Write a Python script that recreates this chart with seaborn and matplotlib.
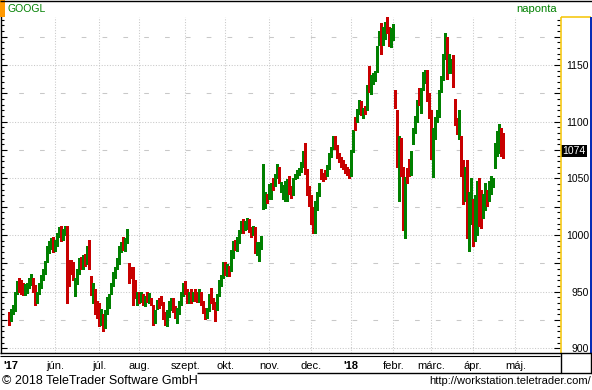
import numpy as np
import pandas as pd
import matplotlib
matplotlib.use("Agg")
import matplotlib.pyplot as plt
import matplotlib.transforms as mtransforms
from matplotlib.ticker import MultipleLocator
from matplotlib.patches import Rectangle
import seaborn as sns

# ---------------- data ----------------
ticker = "GOOGL"
period_label = "naponta"
copyright_text = "© 2018 TeleTrader Software GmbH"
url_text = "http://workstation.teletrader.com/"
month_labels = ["'17", "jún.", "júl.", "aug.", "szept.", "okt.", "nov.",
                "dec.", "'18", "febr.", "márc.", "ápr.", "máj."]
price_labels = [900, 950, 1000, 1050, 1100, 1150]
market_holidays = ["2017-05-29", "2017-07-04", "2017-09-04", "2017-11-23",
                   "2017-12-25", "2018-01-01", "2018-01-15", "2018-02-19",
                   "2018-03-30"]

opens = [930,
         926, 933, 935, 950, 958, 955, 954, 949, 952, 956, 958, 960, 955, 942, 950, 955, 964, 968, 978, 987, 992, 996,
         990, 994, 1000, 1006, 998, 1003, 1006, 975, 976, 972, 950, 960, 968, 978, 972, 980, 976, 994, 962, 945, 950, 938,
         936, 925, 926, 920, 932, 942, 950, 957, 966, 972, 976, 988, 996, 988, 995, 972, 968, 970, 958, 942,
         948, 944, 946, 941, 946, 944, 943, 936, 925, 937, 942, 942, 939, 928, 923, 930, 939, 942, 934, 926, 932, 940, 949,
         957, 950, 945, 948, 944, 949, 945, 943, 948, 940, 934, 929, 935, 947, 942, 939, 936, 948, 958, 963,
         975, 967, 971, 970, 982, 994, 990, 996, 1004, 1009, 1008, 1009, 1012, 1005, 1003, 1006, 987, 989, 993, 1030, 1030, 1034,
         1035, 1040, 1046, 1045, 1052, 1056, 1041, 1038, 1040, 1037, 1050, 1041, 1036, 1050, 1052, 1055, 1058, 1062, 1074, 1056, 1040,
         1030, 1022, 1010, 1025, 1036, 1056, 1052, 1053, 1054, 1060, 1071, 1078, 1085, 1078, 1070, 1067, 1064, 1061, 1058, 1056,
         1053, 1074, 1098, 1101, 1110, 1117, 1107, 1113, 1112, 1139, 1131, 1139, 1140, 1145, 1170, 1185, 1176, 1182, 1186, 1180, 1176,
         1176, 1126, 1100, 1034, 1085, 1058, 1027, 1057, 1065, 1056, 1083, 1092, 1102, 1128, 1112, 1130, 1138, 1144, 1122,
         1107, 1060, 1090, 1104, 1106, 1128, 1140, 1160, 1172, 1146, 1146, 1156, 1118, 1101, 1094, 1080, 1064, 1036, 1064, 1004, 1014,
         1028, 1000, 1005, 1046, 1036, 1024, 1028, 1037, 1035, 1040, 1045, 1062, 1074, 1078, 1087, 1084]
highs = [932,
         935, 938, 950, 959, 962, 960, 958, 957, 958, 962, 966, 962, 956, 950, 958, 965, 970, 977, 990, 995, 997, 998,
         996, 1002, 1007, 1008, 1005, 1008, 1008, 978, 978, 976, 962, 970, 980, 981, 982, 983, 990, 996, 964, 958, 952, 942,
         940, 935, 930, 934, 945, 948, 958, 967, 972, 980, 990, 994, 998, 997, 1005, 975, 972, 972, 960, 950,
         950, 950, 948, 946, 950, 949, 944, 938, 934, 943, 944, 946, 941, 932, 934, 942, 944, 944, 937, 936, 942, 950, 958,
         959, 952, 950, 952, 950, 952, 950, 952, 950, 942, 936, 936, 948, 953, 944, 941, 948, 960, 965, 976,
         976, 974, 973, 987, 995, 996, 998, 1004, 1012, 1014, 1012, 1015, 1014, 1007, 1008, 1007, 994, 994, 999, 1063, 1038, 1036,
         1045, 1046, 1050, 1054, 1063, 1060, 1047, 1044, 1048, 1049, 1052, 1043, 1050, 1054, 1057, 1059, 1064, 1074, 1081, 1058, 1043,
         1035, 1025, 1030, 1038, 1046, 1058, 1055, 1057, 1062, 1072, 1078, 1087, 1087, 1079, 1072, 1069, 1066, 1063, 1060, 1058,
         1075, 1093, 1104, 1111, 1119, 1118, 1112, 1114, 1132, 1149, 1141, 1143, 1145, 1167, 1180, 1187, 1184, 1188, 1193, 1184, 1183,
         1186, 1128, 1110, 1087, 1086, 1060, 1051, 1059, 1067, 1074, 1094, 1105, 1119, 1130, 1130, 1144, 1146, 1146, 1125,
         1110, 1094, 1104, 1110, 1128, 1140, 1160, 1178, 1175, 1160, 1155, 1159, 1120, 1103, 1110, 1087, 1066, 1060, 1066, 1038, 1050,
         1032, 1035, 1048, 1050, 1040, 1036, 1046, 1040, 1048, 1052, 1050, 1081, 1092, 1098, 1094, 1090]
lows = [921,
        924, 930, 933, 948, 950, 948, 947, 947, 949, 953, 956, 950, 938, 940, 948, 953, 960, 966, 976, 984, 988, 985,
        986, 990, 998, 995, 996, 1000, 940, 955, 966, 960, 946, 957, 966, 970, 970, 973, 974, 970, 947, 940, 930, 927,
        920, 921, 915, 918, 930, 936, 948, 955, 962, 970, 974, 985, 987, 986, 993, 958, 962, 938, 944, 938,
        940, 941, 938, 937, 941, 940, 938, 921, 922, 935, 936, 938, 926, 921, 920, 928, 934, 932, 927, 922, 930, 938, 946,
        948, 940, 940, 940, 942, 942, 941, 941, 938, 931, 926, 927, 933, 940, 935, 924, 934, 946, 955, 962,
        965, 964, 964, 968, 980, 987, 986, 993, 1002, 1002, 1004, 1005, 1003, 998, 1000, 984, 982, 977, 988, 1023, 1024, 1028,
        1032, 1032, 1040, 1043, 1050, 1046, 1038, 1032, 1030, 1030, 1036, 1033, 1035, 1049, 1050, 1053, 1056, 1060, 1054, 1035, 1026,
        1010, 1002, 1002, 1022, 1034, 1049, 1048, 1049, 1052, 1058, 1069, 1076, 1076, 1068, 1064, 1060, 1058, 1055, 1053, 1050,
        1052, 1073, 1093, 1100, 1107, 1106, 1103, 1107, 1110, 1126, 1124, 1133, 1136, 1144, 1168, 1160, 1168, 1173, 1178, 1167, 1166,
        1172, 1112, 1060, 1030, 1052, 1004, 997, 1046, 1052, 1053, 1080, 1090, 1100, 1115, 1108, 1128, 1134, 1118, 1103,
        1067, 1051, 1085, 1100, 1104, 1126, 1137, 1155, 1138, 1143, 1143, 1131, 1097, 1089, 1085, 1052, 1027, 1030, 997, 986, 1010,
        990, 995, 1000, 1008, 1006, 1015, 1022, 1026, 1030, 1036, 1042, 1059, 1070, 1072, 1070, 1068]
closes = [924,
          933, 937, 948, 956, 952, 950, 949, 955, 957, 960, 961, 955, 940, 948, 956, 963, 968, 976, 988, 993, 995, 989,
          994, 1001, 1005, 997, 1003, 1006, 962, 968, 969, 965, 958, 968, 978, 972, 980, 976, 988, 972, 949, 954, 936, 930,
          922, 932, 918, 931, 943, 945, 956, 965, 970, 977, 988, 992, 990, 995, 1000, 962, 965, 950, 946, 947,
          943, 947, 940, 944, 943, 945, 940, 923, 932, 941, 939, 940, 928, 924, 932, 940, 942, 934, 929, 934, 940, 948, 955,
          950, 944, 946, 942, 948, 944, 943, 950, 940, 933, 928, 934, 946, 943, 937, 935, 946, 958, 962, 973,
          967, 970, 966, 985, 993, 990, 996, 1002, 1008, 1007, 1009, 1012, 1006, 1002, 1005, 987, 990, 992, 995, 1033, 1034, 1033,
          1042, 1044, 1043, 1052, 1058, 1049, 1045, 1042, 1046, 1047, 1038, 1036, 1048, 1052, 1055, 1057, 1062, 1072, 1057, 1038, 1030,
          1018, 1008, 1022, 1035, 1044, 1051, 1051, 1052, 1059, 1070, 1076, 1084, 1078, 1071, 1066, 1063, 1060, 1057, 1055, 1053,
          1073, 1091, 1095, 1110, 1114, 1112, 1111, 1112, 1130, 1130, 1139, 1141, 1143, 1165, 1176, 1172, 1178, 1186, 1182, 1176, 1181,
          1182, 1119, 1063, 1084, 1055, 1007, 1047, 1050, 1056, 1072, 1092, 1100, 1112, 1117, 1127, 1140, 1144, 1120, 1105,
          1073, 1092, 1100, 1106, 1125, 1136, 1158, 1167, 1142, 1157, 1151, 1135, 1101, 1093, 1096, 1055, 1029, 1056, 1006, 1035, 1047,
          997, 1030, 1042, 1012, 1012, 1033, 1043, 1031, 1044, 1048, 1047, 1078, 1088, 1090, 1077, 1074]

# ---------------- style ----------------
sns.set_style("white")
plt.rcParams["font.family"] = ["Liberation Sans", "DejaVu Sans"]

GREEN = "#008000"
RED = "#c80000"
GRID = "#c8c8c8"
YELLOW = "#f5c400"
BLUE = "#0028b4"

W, H = 592, 390
fig = plt.figure(figsize=(W / 100, H / 100), dpi=100)
fig.patch.set_facecolor("white")


def px_rect(x0, y0, x1, y1):
    return [x0 / W, 1 - y1 / H, (x1 - x0) / W, (y1 - y0) / H]


# trading-day axis
axis_dates = pd.bdate_range("2017-04-28", "2018-05-01", freq="C", holidays=market_holidays)
n = len(closes)
df = pd.DataFrame({"date": axis_dates[:n], "open": opens, "high": highs,
                   "low": lows, "close": closes})
df["pos"] = np.arange(n)
pos_series = pd.Series(np.arange(len(axis_dates)), index=axis_dates)
month_first = pos_series.groupby(axis_dates.to_period("M")).first().values[1:]
month_pos = month_first + 0.4

# ---------------- main axes ----------------
ax = fig.add_axes(px_rect(1, 17, 560, 353))
ax.set_facecolor("white")
ax.set_xlim(-3.75, 275.75)
ax.set_ylim(895.85, 1192.4)

for v in range(900, 1151, 50):
    ax.axhline(v, color=GRID, lw=0.75, ls=(0, (1, 1.6)), zorder=0)
for v in range(925, 1176, 50):
    ax.axhline(v, color=GRID, lw=0.75, ls=(3, (4.5, 15.5)), zorder=0)
for p in month_pos[1:]:
    ax.axvline(p, color=GRID, lw=0.75, ls=(0, (1, 1.6)), zorder=0)

up = (df["close"] >= df["open"]).values
colors = np.where(up, GREEN, RED)
ax.vlines(df["pos"], df["low"], df["high"], colors=colors, lw=0.8,
          antialiased=False, zorder=2)
body_lo = np.minimum(df["open"], df["close"])
body_h = np.maximum((df["close"] - df["open"]).abs(), 0.9)
ax.bar(df["pos"], body_h, bottom=body_lo, width=1.0, color=colors,
       linewidth=0, antialiased=False, zorder=3)

ax.yaxis.set_major_locator(MultipleLocator(25))
ax.yaxis.set_minor_locator(MultipleLocator(5))
ax.tick_params(axis="y", which="both", direction="in", left=True, right=True,
               labelleft=False, labelright=False, color="black", width=0.8)
ax.tick_params(axis="y", which="major", length=4)
ax.tick_params(axis="y", which="minor", length=2.2)

ax.set_xticks(month_pos)
ax.set_xticklabels(month_labels)
ax.tick_params(axis="x", which="both", bottom=False, top=False, length=0,
               pad=5.5, labelsize=8, labelcolor="black")
for lbl in ax.get_xticklabels():
    if lbl.get_text().startswith("'"):
        lbl.set_fontweight("bold")

for s in ["top", "right", "bottom"]:
    ax.spines[s].set_visible(False)
ax.spines["left"].set_color("black")
ax.spines["left"].set_linewidth(1.0)

# ---------------- right price panel ----------------
ax2 = fig.add_axes(px_rect(560.5, 17, 591, 353))
ax2.set_facecolor("white")
ax2.set_xlim(0, 1)
ax2.set_ylim(ax.get_ylim())
ax2.set_xticks([])
ax2.set_yticks(price_labels)
ax2.set_yticklabels([str(v) for v in price_labels])
ax2.tick_params(axis="y", length=0, pad=-20.6, labelsize=7.5, left=True,
                labelleft=True, labelcolor="black")
for s in ax2.spines.values():
    s.set_visible(False)

last = df["close"].iloc[-1]
trans = mtransforms.blended_transform_factory(ax2.transAxes, ax2.transData)
ax2.text(0.44, last, f"{last:.0f}", transform=trans, ha="center", va="center",
         color="white", fontsize=7.5,
         bbox=dict(boxstyle="square,pad=0.12", fc="black", ec="none"))

# ---------------- frame / header / footer ----------------
ov = fig.add_axes([0, 0, 1, 1], zorder=10)
ov.set_xlim(0, W)
ov.set_ylim(H, 0)
ov.axis("off")
ov.patch.set_alpha(0)

ov.plot([0, W], [0.5, 0.5], color="black", lw=1.0, solid_capstyle="butt")
ov.add_patch(Rectangle((0, 0), 5, 16.5, color="#ff9900", lw=0))
# price panel border
ov.plot([560.5, 560.5], [16.7, 352.7], color=YELLOW, lw=1.1, solid_capstyle="butt")
ov.plot([560.5, 591], [16.7, 16.7], color=YELLOW, lw=1.1, solid_capstyle="butt")
ov.plot([590.8, 590.8], [16.7, 352.7], color=BLUE, lw=1.4, solid_capstyle="butt")
# date band
ov.plot([0, W], [352.7, 352.7], color="black", lw=1.0, solid_capstyle="butt")
ov.plot([0, 560], [355.5, 355.5], color="black", lw=0.8, solid_capstyle="butt")
ov.plot([197, W], [373.2, 373.2], color="black", lw=1.0, solid_capstyle="butt")
ov.plot([560.5, 560.5], [352.7, 373.2], color="black", lw=1.0)
ov.plot([591.3, 591.3], [352.7, 373.2], color="black", lw=1.0)

ov.text(7, 8.8, ticker, color=GREEN, fontsize=7.5, ha="left", va="center")
ov.text(557, 9.3, period_label, color=GREEN, fontsize=8, ha="right", va="center")
ov.text(1.5, 380.5, copyright_text, color="black", fontsize=9, ha="left", va="center")
ov.text(590.5, 381.5, url_text, color="black", fontsize=8, ha="right", va="center")

fig.savefig("out.png", dpi=100, facecolor="white")
